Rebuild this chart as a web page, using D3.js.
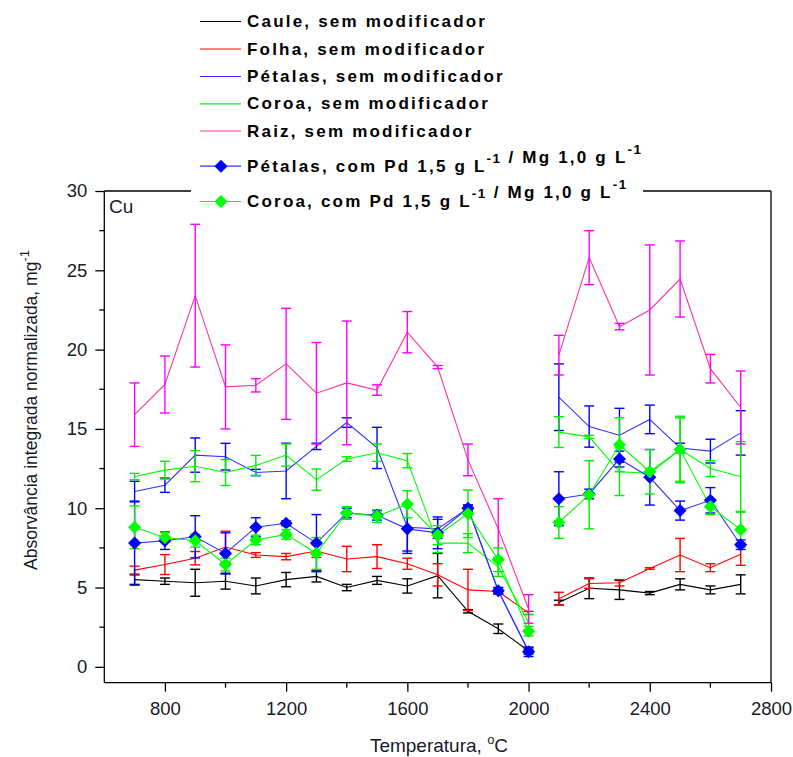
<!DOCTYPE html>
<html>
<head>
<meta charset="utf-8">
<script src="https://cdn.jsdelivr.net/npm/d3@7"></script>
<style>
  body { margin: 0; background: #fff; }
  svg { display: block; }
  text { font-family: "Liberation Sans", Arial, sans-serif; }
</style>
</head>
<body>
<svg id="chart" width="793" height="757"></svg>
<script>
// Pyrolysis temperatures (°C); the run breaks between 2000 and 2100
const temperatures = [700, 800, 900, 1000, 1100, 1200, 1300, 1400, 1500, 1600, 1700, 1800, 1900, 2000,
                      2100, 2200, 2300, 2400, 2500, 2600, 2700];
const secondRunStart = 14;

// Normalized integrated absorbance (mg^-1) and standard deviations
const cauleSem   = [5.5, 5.4, 5.3, 5.4, 5.1, 5.5, 5.7, 5.0, 5.45, 5.1, 5.75, 3.5, 2.4, 1.0,
                    4.05, 4.95, 4.85, 4.65, 5.2, 4.85, 5.2];
const cauleSemSd = [0.3, 0.2, 0.85, 0.5, 0.5, 0.45, 0.35, 0.2, 0.25, 0.45, 1.4, 0.1, 0.3, 0.1,
                    0.15, 0.65, 0.6, 0.1, 0.35, 0.25, 0.6];

const folhaSem   = [6.1, 6.45, 6.85, 7.55, 7.05, 6.95, 7.3, 6.8, 6.95, 6.5, 5.8, 4.85, 4.75, 3.4,
                    4.3, 5.25, 5.3, 6.2, 7.05, 6.25, 7.1];
const folhaSemSd = [0.25, 0.63, 0.42, 1.0, 0.15, 0.2, 0.4, 0.8, 0.75, 0.35, 0.7, 1.3, 0.1, 0.1,
                    0.4, 0.3, 0.2, 0.05, 1.05, 0.25, 0.7];

const petalasSem   = [11.05, 11.45, 13.35, 13.25, 12.25, 12.35, 13.9, 15.4, 13.8, 8.8, 8.7, 10.0, 4.8, 1.0,
                      17.0, 15.15, 14.6, 15.6, 13.8, 13.6, 14.75];
const petalasSemSd = [0.65, 0.45, 1.08, 0.84, 0.2, 1.75, 0.2, 0.3, 1.3, 1.5, 0.6, 0.2, 0.2, 0.2,
                      2.1, 1.3, 1.7, 0.9, 0.3, 0.75, 1.4];

const coroaSem   = [12.0, 12.4, 12.65, 12.25, 12.7, 13.35, 11.8, 13.1, 13.5, 13.0, 7.8, 7.8, 6.3, 2.8,
                    14.8, 14.5, 12.3, 12.2, 13.7, 12.5, 12.0];
const coroaSemSd = [0.2, 0.56, 0.98, 0.82, 0.63, 0.7, 0.67, 0.15, 0.55, 0.45, 0.6, 0.6, 0.6, 0.5,
                    0.97, 0.1, 1.5, 0.3, 2.0, 0.5, 2.2];

const raizSem   = [15.9, 17.8, 23.4, 17.65, 17.75, 19.1, 17.25, 17.9, 17.45, 21.1, 18.9, 13.05, 8.7, 3.65,
                   19.65, 25.8, 21.45, 22.5, 24.45, 18.8, 16.35];
const raizSemSd = [2.0, 1.8, 4.5, 2.65, 0.42, 3.5, 3.2, 3.9, 0.33, 1.3, 0.1, 1.0, 1.9, 0.9,
                   1.25, 1.7, 0.2, 4.1, 2.4, 0.9, 2.3];

const petalasCom   = [7.8, 7.95, 8.2, 7.15, 8.8, 9.05, 7.8, 9.7, 9.55, 8.7, 8.45, 10.0, 4.8, 0.95,
                      10.6, 10.9, 13.1, 11.95, 9.85, 10.5, 7.7];
const petalasComSd = [2.65, 0.55, 1.33, 1.3, 0.6, 0.15, 1.8, 0.3, 0.3, 1.55, 1.0, 0.2, 0.2, 0.3,
                      1.7, 0.3, 0.5, 1.75, 0.6, 0.8, 0.3];

const coroaCom   = [8.8, 8.15, 7.95, 6.45, 8.0, 8.35, 7.15, 9.7, 9.5, 10.25, 8.3, 9.65, 6.75, 2.25,
                    9.1, 10.85, 14.0, 12.3, 13.7, 10.1, 8.65];
const coroaComSd = [1.35, 0.3, 0.4, 0.4, 0.3, 0.3, 1.0, 0.4, 0.4, 0.85, 0.6, 1.5, 0.75, 0.3,
                    1.0, 2.15, 1.7, 1.4, 2.1, 0.5, 1.1];

// Axis ticks
const xMajorTicks = [800, 1200, 1600, 2000, 2400, 2800];
const xMinorTicks = [1000, 1400, 1800, 2200, 2600];
const yMajorTicks = [0, 5, 10, 15, 20, 25, 30];
const yMinorTicks = [2.5, 7.5, 12.5, 17.5, 22.5, 27.5];

// Series: label parts (text, superscript) and drawing style
const series = [
  { label: [["Caule, sem modificador"]], values: cauleSem, sd: cauleSemSd, line: "#000000", bar: "#000000", marker: null },
  { label: [["Folha, sem modificador"]], values: folhaSem, sd: folhaSemSd, line: "#ff0000", bar: "#ff0000", marker: null },
  { label: [["Pétalas, sem modificador"]], values: petalasSem, sd: petalasSemSd, line: "#3333ff", bar: "#0000ff", marker: null },
  { label: [["Coroa, sem modificador"]], values: coroaSem, sd: coroaSemSd, line: "#00ff00", bar: "#00ee00", marker: null },
  { label: [["Raiz, sem modificador"]], values: raizSem, sd: raizSemSd, line: "#ff3399", bar: "#ff00ff", marker: null },
  { label: [["Pétalas, com Pd 1,5 g L"], ["-1", true], [" / Mg 1,0 g L"], ["-1", true]],
    values: petalasCom, sd: petalasComSd, line: "#3333ff", bar: "#0000ff", marker: "#0000ff" },
  { label: [["Coroa, com Pd 1,5 g L"], ["-1", true], [" / Mg 1,0 g L"], ["-1", true]],
    values: coroaCom, sd: coroaComSd, line: "#00ff00", bar: "#00ee00", marker: "#00ff00" }
];

const svg = d3.select("#chart");
const plot = { left: 104.3, right: 771, top: 191, bottom: 682.7 };

const x = d3.scaleLinear().domain([600, 2800]).range([plot.left, plot.right]);
const y = d3.scaleLinear().domain([-1, 30]).range([plot.bottom, plot.top]);

// Frame
const frame = svg.append("g").attr("stroke", "#000").attr("stroke-width", 1.3).attr("fill", "none");
frame.append("line").attr("x1", plot.left).attr("x2", plot.right).attr("y1", plot.top).attr("y2", plot.top);
frame.append("line").attr("x1", plot.right).attr("x2", plot.right).attr("y1", plot.top).attr("y2", plot.bottom);

// Bottom axis
const xAxis = svg.append("g")
  .attr("transform", `translate(0,${plot.bottom})`)
  .call(d3.axisBottom(x).tickValues(xMajorTicks).tickSize(9).tickSizeOuter(0).tickPadding(10).tickFormat(d3.format("d")));
xAxis.append("g").selectAll("line").data(xMinorTicks).join("line")
  .attr("x1", d => x(d)).attr("x2", d => x(d)).attr("y1", 0).attr("y2", 5);

// Left axis
const yAxis = svg.append("g")
  .attr("transform", `translate(${plot.left},0)`)
  .call(d3.axisLeft(y).tickValues(yMajorTicks).tickSize(9).tickSizeOuter(0).tickPadding(8).tickFormat(d3.format("d")));
yAxis.append("g").selectAll("line").data(yMinorTicks).join("line")
  .attr("x1", 0).attr("x2", -5).attr("y1", d => y(d)).attr("y2", d => y(d));

[xAxis, yAxis].forEach(g => {
  g.selectAll("path.domain").attr("stroke", "#000").attr("stroke-width", 1.3);
  g.selectAll("line").attr("stroke", "#000").attr("stroke-width", 1.3);
  g.selectAll("text").attr("font-family", '"Liberation Sans", Arial, sans-serif')
    .attr("font-size", 18.5).attr("fill", "#1a1a2a");
});
// extend the bottom axis line across the full frame width
xAxis.select("path.domain").attr("d", `M${plot.left},0H${plot.right}`);
yAxis.select("path.domain").attr("d", `M0,${plot.top}V${plot.bottom}`);

// Element label
svg.append("text").attr("x", 109).attr("y", 213).attr("font-size", 19).attr("fill", "#1a1a2a").text("Cu");

// Data layers
const runs = [d3.range(0, secondRunStart), d3.range(secondRunStart, temperatures.length)];
const capHalf = 5;

const layers = svg.append("g");
series.forEach(s => {
  const g = layers.append("g");
  const lineGen = d3.line().x(i => x(temperatures[i])).y(i => y(s.values[i]));
  runs.forEach(run => {
    g.append("path").attr("d", lineGen(run)).attr("fill", "none")
      .attr("stroke", s.line).attr("stroke-width", 1.1);
  });
  const bars = g.append("g").attr("stroke", s.bar).attr("stroke-width", 1.4).attr("fill", "none");
  temperatures.forEach((t, i) => {
    const cx = x(t), hi = y(s.values[i] + s.sd[i]), lo = y(s.values[i] - s.sd[i]);
    bars.append("line").attr("x1", cx).attr("x2", cx).attr("y1", hi).attr("y2", lo);
    bars.append("line").attr("x1", cx - capHalf).attr("x2", cx + capHalf).attr("y1", hi).attr("y2", hi);
    bars.append("line").attr("x1", cx - capHalf).attr("x2", cx + capHalf).attr("y1", lo).attr("y2", lo);
  });
});

const diamond = d3.symbol().type(d3.symbolDiamond2).size(110);
series.filter(s => s.marker).forEach(s => {
  layers.append("g").selectAll("path").data(temperatures.map((t, i) => i)).join("path")
    .attr("transform", i => `translate(${x(temperatures[i])},${y(s.values[i])})`)
    .attr("d", diamond).attr("fill", s.marker);
});

// Legend (white panel over the top frame line)
svg.append("rect").attr("x", 191).attr("y", 0).attr("width", 452).attr("height", 214).attr("fill", "#fff");
const legendBaselines = [27, 54.5, 82, 109.3, 136.5, 171.7, 207];
const legend = svg.append("g");
series.forEach((s, k) => {
  const by = legendBaselines[k];
  const ly = by - 5.5;
  legend.append("line").attr("x1", 200).attr("x2", 241).attr("y1", ly).attr("y2", ly)
    .attr("stroke", s.line).attr("stroke-width", 1.2);
  if (s.marker) {
    legend.append("path").attr("transform", `translate(221,${ly})`).attr("d", diamond).attr("fill", s.marker);
  }
  const txt = legend.append("text").attr("x", 247).attr("y", by)
    .attr("font-size", 17).attr("font-weight", "bold").attr("letter-spacing", "2.2px").attr("fill", "#000");
  s.label.forEach(([part, sup]) => {
    if (sup) {
      txt.append("tspan").attr("dy", -9).attr("font-size", 13.5).attr("letter-spacing", "1.5px").text(part);
      txt.append("tspan").attr("dy", 9).text("");
    } else {
      txt.append("tspan").text(part);
    }
  });
});

// Axis titles
const xt = svg.append("text").attr("x", 439).attr("y", 752).attr("text-anchor", "middle")
  .attr("font-size", 19).attr("fill", "#1a1a2a");
xt.append("tspan").text("Temperatura, ");
xt.append("tspan").attr("dy", -8).attr("font-size", 13).text("o");
xt.append("tspan").attr("dy", 8).text("C");

const yt = svg.append("text").attr("transform", "translate(37,410) rotate(-90)").attr("text-anchor", "middle")
  .attr("font-size", 17.5).attr("fill", "#1a1a2a");
yt.append("tspan").text("Absorvância integrada normalizada, mg");
yt.append("tspan").attr("dy", -8).attr("font-size", 13).text("-1");
</script>
</body>
</html>
